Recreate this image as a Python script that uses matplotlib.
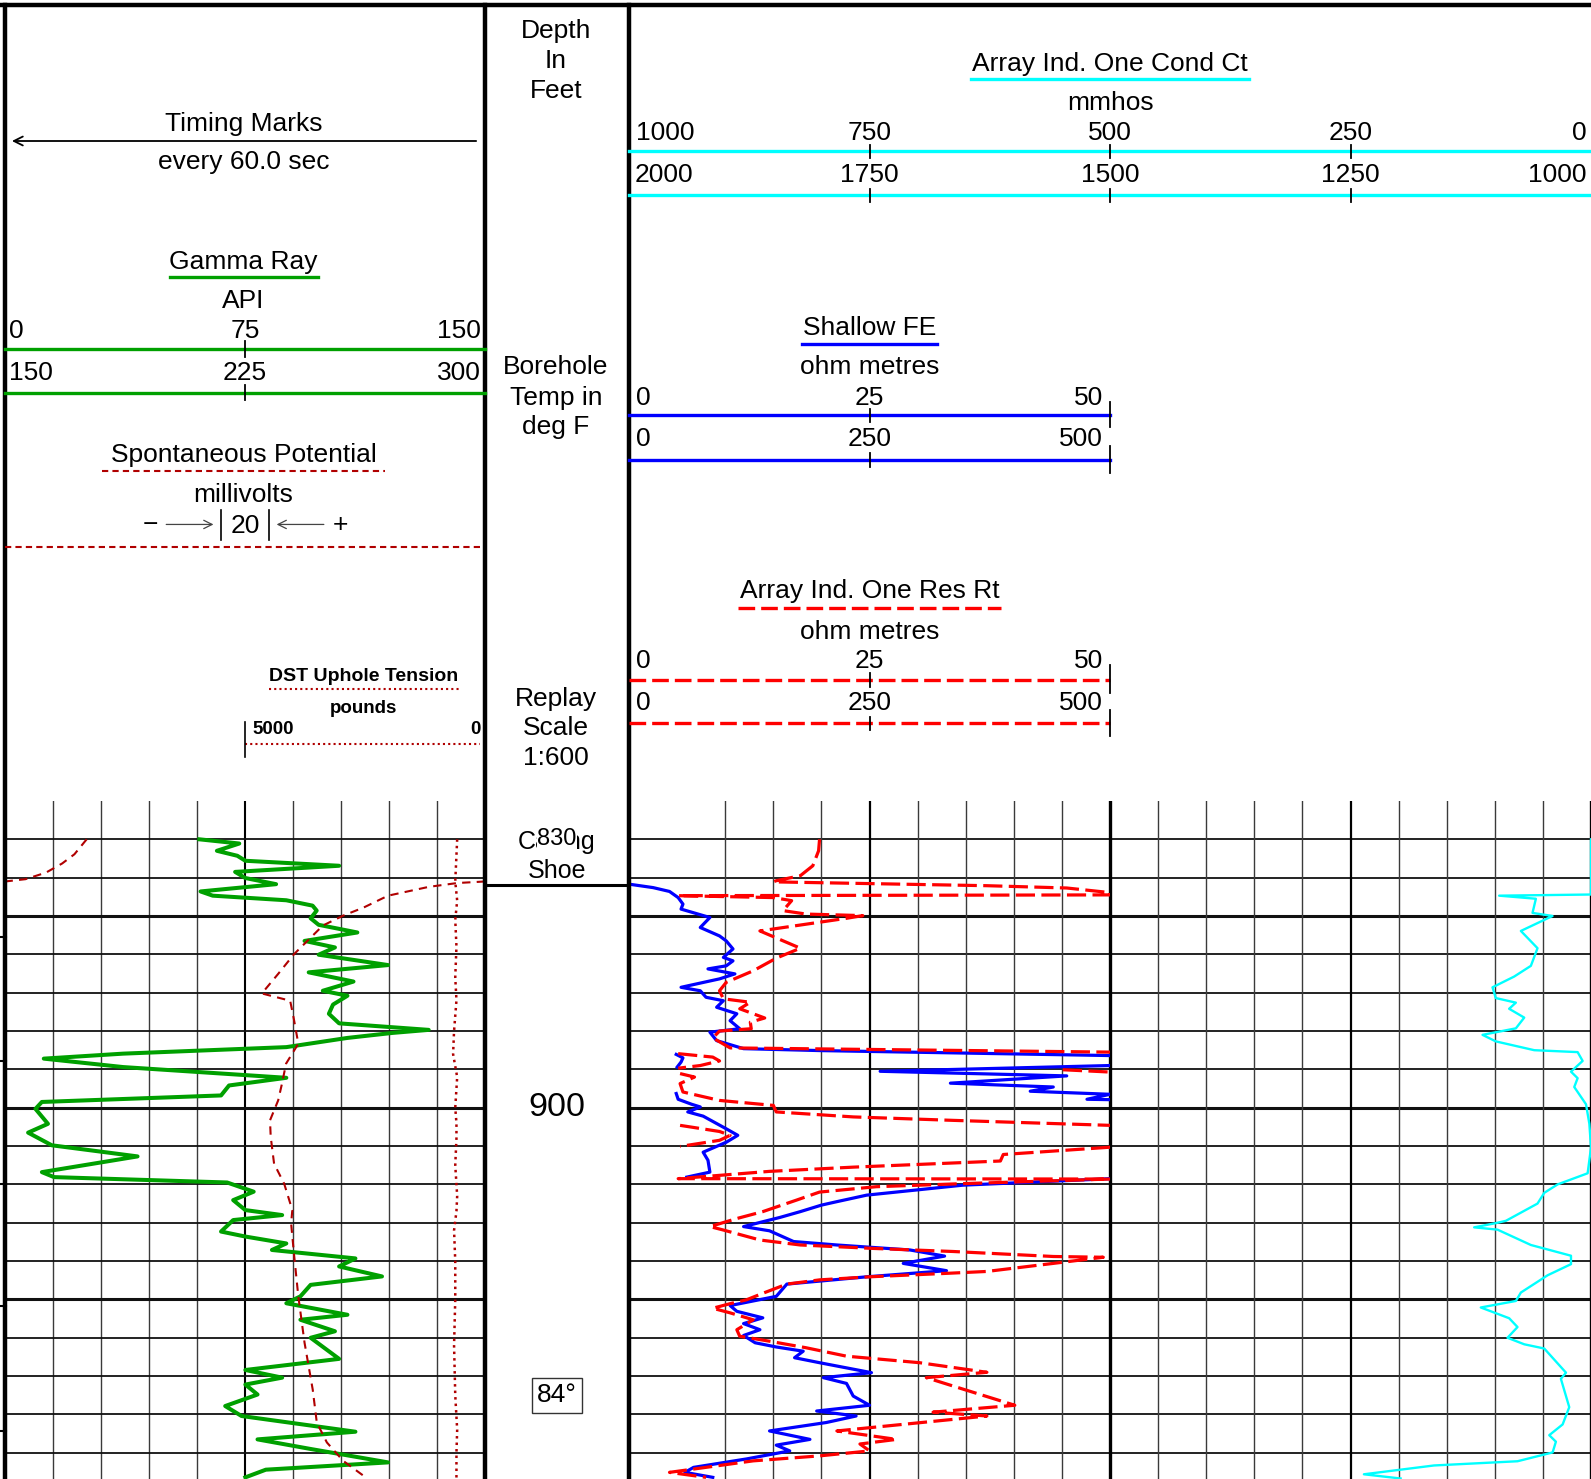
import numpy as np
import matplotlib
matplotlib.use("Agg")
import matplotlib.pyplot as plt
from matplotlib.transforms import blended_transform_factory as blend

plt.rcParams['font.family'] = ['Liberation Sans', 'DejaVu Sans']
nan = float('nan')

# ---------------- data (depth in feet) ----------------
gr_depth = [830.0, 831.1, 833.0, 834.3, 835.6, 836.9, 838.5, 840.1, 841.7, 843.6, 844.7, 845.9, 847.3, 848.6,
            850.6, 852.3, 854.3, 856.5, 858.2, 860.1, 862.8, 864.7, 867.1, 869.5, 870.8, 873.1, 875.5, 878.0,
            879.7, 880.5, 881.8, 884.2, 885.9, 887.2, 889.4, 892.2, 894.2, 896.8, 898.5, 900.3, 904.2, 906.5,
            909.8, 912.7, 916.8, 918.1, 919.5, 921.9, 924.1, 926.7, 928.0, 929.3, 932.3, 933.6, 935.4, 937.1,
            939.3, 941.4, 944.0, 946.2, 949.2, 951.0, 954.0, 955.3, 958.3, 960.0, 965.5, 968.4, 970.4, 972.2,
            974.8, 977.8, 980.4, 984.5, 986.5, 989.0, 992.5, 994.4, 996.4]
gr_api = [60.7, 73.2, 66.2, 72.6, 75.1, 104.4, 71.9, 75.1, 84.7, 61.1, 64.9, 87.9, 96.1, 97.4,
          95.5, 98.0, 110.1, 93.6, 103.1, 98.0, 119.7, 94.9, 108.9, 99.3, 107.0, 102.5, 101.2, 104.4,
          132.4, 121.0, 107.0, 87.9, 36.9, 12.1, 36.9, 87.9, 70.0, 67.5, 11.5, 9.5, 13.4, 7.2,
          14.6, 41.4, 11.5, 15.3, 69.4, 77.7, 71.3, 75.1, 86.6, 71.3, 67.5, 75.1, 87.9, 83.4,
          109.5, 104.4, 117.8, 95.5, 92.3, 87.9, 107.0, 92.3, 103.1, 95.5, 104.4, 75.1, 86.6, 75.1,
          78.9, 68.8, 73.9, 109.5, 78.9, 95.5, 119.7, 81.5, 75.1]

# Spontaneous potential, millivolts across the track (20 mV / division), wrapped at the casing shoe
sp_depth = [830.0, 833.9, 836.3, 838.7, 840.4, 841.0, nan,
            841.0, 841.4, 842.4, 844.7, 847.8, 849.9, 852.5, 859.9, 865.1, 870.2, 872.1, 876.4, 883.3,
            888.5, 893.7, 898.1, 903.3, 907.6, 914.6, 919.8, 926.7, 930.2, 938.8, 949.2, 961.3, 973.5,
            982.1, 987.3, 992.1, 996.0]
sp_mv = [34.0, 28.9, 23.8, 17.0, 8.5, 0.0, nan,
         200.0, 188.5, 176.6, 159.6, 149.4, 140.9, 132.4, 120.5, 113.8, 107.0, 118.8, 120.2, 122.2,
         117.1, 115.4, 113.8, 110.4, 110.7, 112.1, 116.3, 119.7, 119.2, 120.5, 122.2, 124.8, 128.2,
         129.9, 134.1, 140.9, 149.4]

# DST uphole tension, pounds
tens_depth = [830, 841, 846, 851, 858, 866, 872, 880, 886, 892, 900, 904, 908, 915, 923, 927, 932, 940,
              950, 962, 975, 984, 990, 997]
tens_lb = [580, 620, 580, 620, 595, 620, 595, 645, 665, 580, 620, 595, 595, 620, 580, 595, 645, 620,
           620, 645, 620, 580, 595, 595]

# Array induction conductivity, mmhos
cond_depth = [830.0, 844.4, 844.7, 845.5, 849.2, 850.0, 853.9, 858.4, 863.0, 865.8, 868.6, 871.4, 872.6,
              874.2, 876.5, 879.3, 881.0, 882.7, 885.0, 885.5, 887.8, 890.6, 892.3, 894.6, 899.1, 904.2,
              910.4, 917.1, 920.0, 922.2, 925.0, 929.5, 930.1, 931.2, 931.8, 935.8, 938.6, 940.8, 943.7,
              948.2, 950.4, 952.1, 954.9, 957.2, 960.0, 961.7, 962.8, 969.1, 970.7, 978.1, 982.6, 985.4,
              987.1, 989.9, 992.2, 993.3, 995.6, 996.7]
cond_mmho = [0.0, 0.0, 95.5, 57.3, 60.8, 40.0, 72.9, 55.6, 62.5, 79.9, 102.4, 99.0, 78.1,
             85.1, 69.4, 78.1, 112.8, 99.0, 59.0, 13.9, 8.7, 20.8, 13.9, 17.4, 5.2, 1.7,
             0.0, 3.5, 34.7, 48.6, 55.6, 88.5, 99.0, 121.5, 97.2, 62.5, 20.8, 20.8, 45.1,
             72.9, 78.1, 114.6, 85.1, 76.4, 86.8, 69.4, 48.6, 26.0, 31.3, 22.6, 29.5, 43.4,
             36.5, 39.9, 76.4, 163.2, 236.1, 197.9]

# Shallow FE resistivity, ohm metres (as displayed on the 0-50 track, wraps split by nan)
sfe_depth = [830.0, 841.7, 842.6, 843.6, 845.2, 846.9, 848.2, 850.4, 853.0, 855.2, 856.5, 858.6, 860.8,
             861.7, 863.0, 863.8, 865.1, 866.4, 868.6, 869.5, 871.2, 872.1, 873.8, 875.5, 877.3, 879.4,
             880.3, 882.5, 884.6, 885.1, 886.4, nan,
             886.1, 887.0, 888.1, 889.4, nan,
             889.0, 890.5, 891.7, 893.6, 894.6, 895.7, 896.5, 897.8, 897.9, nan,
             896.3, 897.8, 899.1, 899.8, 901.1, 902.2, 905.5, 907.2, 909.0, 911.6, 913.7, 916.8, 918.1, nan,
             918.5, 918.7, 920.2, 922.8, 924.5, 925.4, 927.1, 928.6, 931.0, 932.1, 934.9, 935.8, 937.1,
             938.7, 940.6, 942.5, 944.1, 946.0, 949.2, 951.6, 953.1, 954.8, 956.3, 957.9, 959.4, 961.3,
             962.4, 963.5, 965.2, 966.5, 969.1, 970.4, 971.9, 975.2, 977.6, 979.1, 980.4, 982.1, 984.3,
             986.5, 988.0, 989.5, 991.6, 993.8, 995.1, 996.4]
sfe_ohmm = [0.0, 0.0, 2.5, 4.2, 5.1, 5.6, 5.4, 8.4, 7.4, 9.4, 10.1, 10.8, 9.8,
            10.8, 10.1, 8.2, 11.0, 9.4, 5.4, 7.4, 8.0, 9.8, 9.1, 11.2, 10.5, 11.5,
            8.4, 9.1, 11.9, 19.8, 50.0, nan,
            4.9, 5.6, 5.4, 5.0, nan,
            50.0, 26.1, 45.5, 33.4, 44.1, 41.7, 50.0, 47.6, 50.0, nan,
            4.9, 5.1, 6.5, 7.4, 6.1, 7.7, 10.1, 11.3, 10.1, 7.7, 8.2, 8.4, 6.0, nan,
            50.0, 48.3, 34.7, 24.7, 21.6, 20.0, 17.8, 15.7, 11.9, 14.6, 17.1, 21.6, 29.2,
            32.8, 28.5, 33.0, 24.7, 16.4, 15.3, 10.5, 11.2, 13.9, 11.9, 13.6, 11.9, 13.1,
            15.3, 18.1, 17.2, 19.8, 25.2, 20.2, 22.6, 23.3, 25.0, 19.5, 23.6, 20.5, 14.6,
            18.8, 15.3, 16.7, 12.2, 6.7, 5.8, 8.7]

# Array induction resistivity Rt, ohm metres (as displayed on the 0-50 track)
rt_depth = [830.0, 833.0, 836.9, 839.5, 840.8, 841.1, 842.1, 842.7, 843.9, 844.5, 844.7, 845.2, 846.0,
            848.6, 849.5, 849.9, 850.6, 853.9, 858.4, 861.0, 864.3, 867.3, 869.5, 871.6, 872.5, 874.2,
            876.6, 877.7, 879.4, 880.0, 881.8, 884.4, 885.5, nan,
            885.9, 886.8, 887.8, 889.0, 889.7, nan,
            890.1, 890.7, nan,
            891.1, 892.0, 893.7, 895.9, 898.1, 899.4, 901.1, 902.4, 903.3, 904.6, nan,
            904.6, 906.2, 907.2, 908.5, 910.1, nan,
            910.3, 912.2, 913.9, 915.5, 916.6, 918.5, 918.6, 919.8, 920.6, 922.0, 924.1, 927.1, 928.9,
            931.0, 931.9, 934.5, 935.8, 936.7, 937.5, 938.8, 939.0, 940.6, 942.7, 943.2, 944.1, 944.9,
            946.0, 948.4, 950.1, 951.1, 952.3, 953.5, 955.3, 957.9, 959.6, 960.9, 962.6, 964.8, 966.5,
            969.0, 970.4, 972.6, 977.6, 979.4, 980.4, 984.3, 986.5, 987.7, 989.5, 990.8, 992.1, 995.1,
            996.4]
rt_ohmm = [19.8, 19.7, 19.1, 17.8, 15.3, 15.0, 37.2, 45.5, 50.0, 50.0, 5.1, 15.0, 16.9,
           16.0, 18.4, 24.3, 22.6, 13.6, 17.8, 15.3, 12.9, 10.1, 9.4, 9.8, 12.6, 11.5,
           14.1, 12.6, 12.7, 9.4, 8.7, 10.5, 50.0, nan,
           5.1, 8.7, 9.4, 7.4, 5.1, nan,
           45.1, 50.0, nan,
           5.3, 6.8, 5.3, 5.6, 9.4, 15.0, 15.3, 23.3, 33.7, 50.0, nan,
           5.3, 9.4, 10.5, 9.4, 5.3, nan,
           50.0, 38.9, 38.6, 23.3, 14.6, 5.1, 50.0, 34.7, 25.7, 19.8, 17.4, 13.9, 11.2,
           8.4, 9.8, 13.6, 17.8, 25.4, 33.7, 44.1, 49.3, 44.1, 37.2, 33.0, 25.0, 19.8,
           16.4, 13.9, 12.2, 10.5, 8.7, 10.5, 12.9, 11.2, 11.5, 14.6, 18.4, 22.6, 30.2,
           37.2, 30.9, 33.7, 40.1, 31.6, 37.2, 21.6, 27.8, 24.0, 25.0, 19.8, 12.9, 4.2,
           8.0]

timing_mark_depths = [855.4, 887.7, 919.8, 951.8, 984.3]
casing_shoe_depth = 841.8
depth_labels = [830, 900]
temp_depth = 975.0
temp_label = "84°"

gr_scale = [0, 75, 150]
gr_backup = [150, 225, 300]
cond_scale = [1000, 750, 500, 250, 0]
cond_backup = [2000, 1750, 1500, 1250, 1000]
res_scale = [0, 25, 50]
res_backup = [0, 250, 500]
tens_scale = [5000, 0]
sp_division = 20

# ---------------- layout ----------------
W, H = 1568.0, 1458.0
TOP_D, BOT_D = 820.11, 996.83
LOG_TOP = 790
DY = 2  # vertical nudge of header texts

fig = plt.figure(figsize=(15.91, 14.79), dpi=100)


def rect(x0, y0, x1, y1):
    return [x0 / W, 1 - y1 / H, (x1 - x0) / W, (y1 - y0) / H]


def mk(r, xlim):
    a = fig.add_axes(r)
    a.set_xlim(*xlim)
    a.set_ylim(BOT_D, TOP_D)
    a.set_axis_off()
    a.patch.set_visible(False)
    return a


ax1 = mk(rect(5, LOG_TOP, 478, H), (0, 150))
axsp = mk(rect(5, LOG_TOP, 478, H), (0, 200))
axt = mk(rect(5, LOG_TOP, 478, H), (10000, 0))
axd = mk(rect(478, LOG_TOP, 620, H), (0, 1))
ax23 = mk(rect(620, LOG_TOP, 1568, H), (1000, 0))
ax2 = mk(rect(620, LOG_TOP, 1094, H), (0, 50))

hdr = fig.add_axes([0, 0, 1, 1])
hdr.set_xlim(0, W)
hdr.set_ylim(H, 0)
hdr.set_axis_off()
hdr.patch.set_visible(False)

GRID = '#111111'
VG = '#3a3a3a'
# grid track 1
for v in range(15, 150, 15):
    ax1.axvline(v, color='black' if v == 75 else VG, lw=1.5 if v == 75 else 1.0, zorder=1)
for d in range(830, 991, 10):
    ax1.axhline(d, color=GRID, lw=2.2 if d % 50 == 0 else 1.3, zorder=1)
    ax23.axhline(d, color=GRID, lw=2.2 if d % 50 == 0 else 1.3, zorder=1)
for v in range(900, 0, -50):
    if v == 500:
        continue
    ax23.axvline(v, color='black' if v in (750, 250) else VG,
                 lw=1.6 if v in (750, 250) else 1.0, zorder=1)
ax23.axvline(500, color='black', lw=2.4, zorder=1)
ax23.axvline(0, color='black', lw=2.4, zorder=1)

# curves
ax1.plot(gr_api, gr_depth, color='#00A000', lw=2.9, solid_joinstyle='round', zorder=3)
axsp.plot(sp_mv, sp_depth, color='#B00000', lw=1.5, ls=(0, (4, 3)), zorder=3)
axt.plot(tens_lb, tens_depth, color='#B00000', lw=1.8, ls=(0, (1, 1.6)), zorder=3)
ax23.plot(cond_mmho, cond_depth, color='#00FFFF', lw=1.7, zorder=3)
ax2.plot(sfe_ohmm, sfe_depth, color='#0000FF', lw=2.3, zorder=3)
ax2.plot(rt_ohmm, rt_depth, color='#FF0000', lw=2.3, ls=(0, (6, 2)), zorder=4)

# depth track
axd.axhline(casing_shoe_depth, color='black', lw=2.2)
FS = 19
for dl in depth_labels:
    if dl == 900:
        axd.text(0.5, dl, str(dl), ha='center', va='center', fontsize=24.5)
axd.text(0.5, casing_shoe_depth - 11.0, 'Casing', ha='center', va='center', fontsize=18)
axd.text(0.5, casing_shoe_depth - 3.5, 'Shoe', ha='center', va='center', fontsize=18)
axd.text(0.5, 830, '830', ha='center', va='center', fontsize=17,
         bbox=dict(facecolor='white', edgecolor='none', pad=0.5), zorder=5)
axd.text(0.5, temp_depth, temp_label, ha='center', va='center', fontsize=19,
         bbox=dict(facecolor='white', edgecolor='#333333', lw=1.0, boxstyle='square,pad=0.2'))

# timing marks on the left edge
btm = blend(hdr.transData, ax1.transData)
for d in timing_mark_depths:
    hdr.plot([0, 6], [d, d], transform=btm, color='black', lw=1.5, clip_on=False)

# frame
K = 'black'
hdr.plot([0, W], [5, 5], color=K, lw=3.2)
hdr.plot([5, 5], [5, H], color=K, lw=3.2)
hdr.plot([478, 478], [5, H], color=K, lw=3.2)
hdr.plot([620, 620], [5, H], color=K, lw=3.2)


def T(x, y, s, ha='center', fs=FS, **kw):
    hdr.text(x, y + DY, s, ha=ha, va='center', fontsize=fs, **kw)


# depth track header
for y, s in [(29, 'Depth'), (58, 'In'), (88, 'Feet'), (360, 'Borehole'), (390, 'Temp in'), (419, 'deg F'),
             (687, 'Replay'), (716, 'Scale'), (745, '1:600')]:
    T(548, y, s)

# ---- Track 1 header ----
T(240, 120, 'Timing Marks')
hdr.annotate('', xy=(9, 139), xytext=(472, 139),
             arrowprops=dict(arrowstyle='->', lw=1.3, color='black', mutation_scale=16))
T(240, 158, 'every 60.0 sec')

GREEN = '#00A000'
T(240, 256, 'Gamma Ray')
hdr.plot([168, 313], [273, 273], color=GREEN, lw=2.4)
T(240, 295, 'API')
b1 = blend(ax1.transData, hdr.transData)


def scale_labels_pos(tr, pos, labels, y, offs=(3, -3), fs=FS, weight='normal'):
    for i, (p, lab) in enumerate(zip(pos, labels)):
        if i == 0:
            ha, dx = 'left', offs[0]
        elif i == len(pos) - 1:
            ha, dx = 'right', offs[1]
        else:
            ha, dx = 'center', 0
        hdr.annotate(str(lab), xy=(p, y + DY), xycoords=tr, xytext=(dx, 0),
                     textcoords='offset points', ha=ha, va='center', fontsize=fs, fontweight=weight)


scale_labels_pos(b1, gr_scale, gr_scale, 324)
hdr.plot([0, 150], [344, 344], transform=b1, color=GREEN, lw=2.4)
hdr.plot([75, 75], [336, 352], transform=b1, color='black', lw=1.3)
scale_labels_pos(b1, gr_scale, gr_backup, 366)
hdr.plot([0, 150], [387, 387], transform=b1, color=GREEN, lw=2.4)
hdr.plot([75, 75], [380, 394], transform=b1, color='black', lw=1.3)

DR = '#B00000'
T(240, 447, 'Spontaneous Potential')
hdr.plot([101, 379], [464, 464], color=DR, lw=1.5, ls=(0, (3, 2)))
T(240, 486, 'millivolts')
bsp = blend(axsp.transData, hdr.transData)
c = 100
hdr.annotate(str(sp_division), xy=(c, 517 + DY), xycoords=bsp, ha='center', va='center', fontsize=FS)
for xv in (c - sp_division / 2, c + sp_division / 2):
    hdr.plot([xv, xv], [503, 532], transform=bsp, color='black', lw=1.2)
hdr.annotate('', xy=(c - sp_division / 2 - 2.0, 517), xytext=(c - 1.7 * sp_division, 517), xycoords=bsp,
             textcoords=bsp, arrowprops=dict(arrowstyle='->', lw=0.9, color='#444444', mutation_scale=15))
hdr.annotate('', xy=(c + sp_division / 2 + 2.0, 517), xytext=(c + 1.7 * sp_division, 517), xycoords=bsp,
             textcoords=bsp, arrowprops=dict(arrowstyle='->', lw=0.9, color='#444444', mutation_scale=15))
hdr.annotate('\u2212', xy=(c - 1.98 * sp_division, 516 + DY), xycoords=bsp, ha='center', va='center', fontsize=FS)
hdr.annotate('+', xy=(c + 1.98 * sp_division, 516 + DY), xycoords=bsp, ha='center', va='center', fontsize=FS)
hdr.plot([0, 199], [539, 539], transform=bsp, color=DR, lw=1.5, ls=(0, (3, 2)))

T(358, 665, 'DST Uphole Tension', fs=14, fontweight='bold')
hdr.plot([265, 452], [679, 679], color=DR, lw=1.5, ls=(0, (1, 1.5)))
T(358, 696, 'pounds', fs=13.5, fontweight='bold')
bt = blend(axt.transData, hdr.transData)
scale_labels_pos(bt, tens_scale, tens_scale, 717, offs=(5, -3), fs=13.5, weight='bold')
hdr.plot([5000, 100], [733, 733], transform=bt, color=DR, lw=1.5, ls=(0, (1, 1.5)))
hdr.plot([5000, 5000], [712, 746], transform=bt, color='black', lw=1.2)

# ---- Track 2/3 header ----
CY = '#00FFFF'
T(1094, 61, 'Array Ind. One Cond Ct')
hdr.plot([957, 1231], [78, 78], color=CY, lw=2.4)
T(1094, 100, 'mmhos')
b23 = blend(ax23.transData, hdr.transData)
scale_labels_pos(b23, cond_scale, cond_scale, 129, offs=(5, -3))
hdr.plot([1000, 0], [149, 149], transform=b23, color=CY, lw=2.4)
for v in cond_scale[1:-1]:
    hdr.plot([v, v], [143, 156], transform=b23, color='black', lw=1.3)
scale_labels_pos(b23, cond_scale, cond_backup, 171, offs=(4, -3))
hdr.plot([1000, 0], [192, 192], transform=b23, color=CY, lw=2.4)
for v in cond_scale[1:-1]:
    hdr.plot([v, v], [186, 199], transform=b23, color='black', lw=1.3)

BL = '#0000FF'
RD = '#FF0000'
b2 = blend(ax2.transData, hdr.transData)
T(857, 321, 'Shallow FE')
hdr.plot([790, 923], [339, 339], color=BL, lw=2.4)
T(857, 360, 'ohm metres')
scale_labels_pos(b2, res_scale, res_scale, 390, offs=(5, -5))
hdr.plot([0, 50], [409, 409], transform=b2, color=BL, lw=2.4)
hdr.plot([25, 25], [403, 416], transform=b2, color='black', lw=1.3)
hdr.plot([50, 50], [396, 421], transform=b2, color='black', lw=1.3)
scale_labels_pos(b2, res_scale, res_backup, 431, offs=(5, -5))
hdr.plot([0, 50], [453, 453], transform=b2, color=BL, lw=2.4)
hdr.plot([25, 25], [447, 460], transform=b2, color='black', lw=1.3)
hdr.plot([50, 50], [440, 466], transform=b2, color='black', lw=1.3)

T(857, 581, 'Array Ind. One Res Rt')
hdr.plot([727, 987], [599, 599], color=RD, lw=2.4, ls=(0, (5, 1.8)))
T(857, 621, 'ohm metres')
scale_labels_pos(b2, res_scale, res_scale, 650, offs=(5, -5))
hdr.plot([0, 50], [670, 670], transform=b2, color=RD, lw=2.4, ls=(0, (5, 1.8)))
hdr.plot([25, 25], [663, 677], transform=b2, color='black', lw=1.3)
hdr.plot([50, 50], [656, 683], transform=b2, color='black', lw=1.3)
scale_labels_pos(b2, res_scale, res_backup, 691, offs=(5, -5))
hdr.plot([0, 50], [713, 713], transform=b2, color=RD, lw=2.4, ls=(0, (5, 1.8)))
hdr.plot([25, 25], [707, 720], transform=b2, color='black', lw=1.3)
hdr.plot([50, 50], [700, 726], transform=b2, color='black', lw=1.3)

fig.savefig('out.png', dpi=100)
